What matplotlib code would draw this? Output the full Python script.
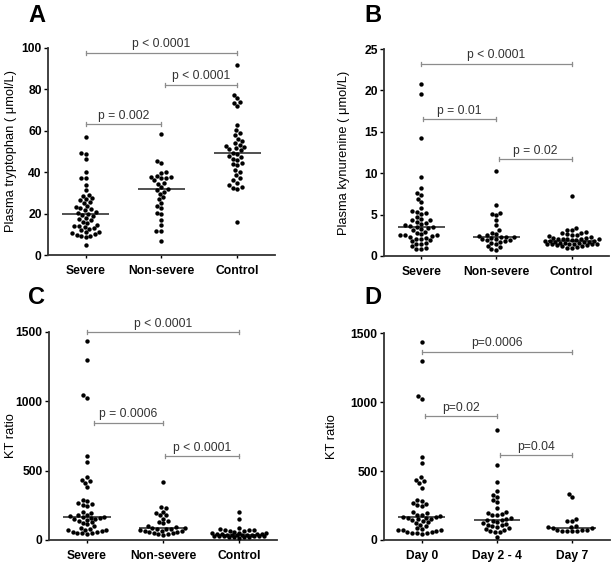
import numpy as np
import matplotlib.pyplot as plt

plt.rcParams['font.family'] = ['Liberation Sans', 'DejaVu Sans']

# 分组名称
groups_sev = ['Severe', 'Non-severe', 'Control']
groups_day = ['Day 0', 'Day 2 - 4', 'Day 7']

# A: 血浆色氨酸 (umol/L)
trp_severe = [57, 49.5, 49, 46.5, 40, 37, 37, 34, 31.5, 29, 28.5, 27.5, 27, 26.5, 25.5,
              25, 23.5, 23, 22.5, 22, 21.5, 21, 20.5, 20, 19.5, 19, 18, 17.5, 17, 16,
              15.5, 14.5, 14, 14, 13.5, 13, 12.5, 12, 11, 11, 10.5, 10, 9.5, 9, 9, 8.5, 5]
trp_nonsevere = [58.5, 45.5, 44.5, 40, 39.5, 38, 37.5, 37.5, 37, 37, 36, 35, 34.5, 33,
                 31.8, 31.5, 30.5, 29.5, 28, 27, 25, 23.5, 22.5, 20.5, 20, 17, 14.5,
                 11.5, 11.5, 7]
trp_control = [92, 77.5, 76, 74, 73.5, 72, 63, 60.5, 59, 58, 56, 55, 54, 53, 52.5, 52,
               51.5, 51, 50.5, 49.5, 49, 48, 47.5, 46.5, 46, 44.5, 44, 43.5, 41, 40,
               38.5, 37, 36, 35, 34, 33, 32.5, 32, 16]

# B: 血浆犬尿氨酸 (umol/L)
kyn_severe = [20.8, 19.6, 14.2, 9.6, 8.2, 7.6, 7.4, 6.9, 6.5, 5.8, 5.4, 5.3, 5.2, 5.1,
              4.7, 4.5, 4.4, 4.3, 4.1, 4.0, 3.9, 3.7, 3.6, 3.5, 3.5, 3.4, 3.3, 3.1, 2.9,
              2.8, 2.6, 2.5, 2.5, 2.5, 2.4, 2.3, 2.2, 2.1, 2.0, 1.9, 1.8, 1.6, 1.5, 1.4,
              1.2, 1.0, 0.9, 0.8]
kyn_nonsevere = [10.3, 6.1, 5.2, 5.1, 4.9, 4.3, 3.7, 3.1, 2.8, 2.6, 2.5, 2.4, 2.35, 2.3,
                 2.25, 2.2, 2.0, 2.0, 1.9, 1.9, 1.8, 1.7, 1.6, 1.4, 1.2, 1.1, 0.8, 0.7]
kyn_control = [7.2, 3.4, 3.2, 3.1, 2.9, 2.8, 2.8, 2.6, 2.5, 2.5, 2.4, 2.3, 2.2, 2.2, 2.1,
               2.1, 2.0, 2.0, 2.0, 1.9, 1.9, 1.8, 1.8, 1.8, 1.7, 1.7, 1.7, 1.6, 1.6, 1.6,
               1.5, 1.5, 1.5, 1.4, 1.4, 1.4, 1.3, 1.3, 1.2, 1.2, 1.1, 1.0, 1.0]

# C: KT ratio
kt_severe = [1433, 1300, 1045, 1025, 605, 560, 455, 432, 425, 410, 380, 290, 282, 270,
             262, 255, 248, 205, 195, 182, 178, 172, 168, 165, 162, 160, 155, 150, 145,
             140, 128, 120, 112, 100, 85, 80, 75, 72, 70, 65, 60, 55, 52, 50, 48, 45]
kt_nonsevere = [420, 235, 228, 205, 198, 182, 178, 155, 135, 128, 120, 98, 92, 88, 85,
                82, 80, 78, 72, 68, 65, 62, 58, 55, 50, 48, 45, 40, 36]
kt_control = [200, 150, 88, 78, 74, 72, 70, 66, 62, 58, 54, 50, 48, 46, 44, 42, 40, 38,
              37, 36, 35, 34, 33, 32, 30, 29, 28, 27, 26, 25, 24, 22, 20, 18]

# D: KT ratio 随时间
kt_day0 = kt_severe
kt_day24 = [795, 542, 417, 354, 325, 313, 289, 277, 229, 205, 195, 190, 182, 178, 160,
            152, 145, 142, 138, 130, 120, 115, 112, 108, 100, 95, 85, 80, 70, 65, 58,
            55, 25]
kt_day7 = [335, 312, 155, 140, 138, 105, 95, 92, 90, 88, 75, 72, 70, 68, 66, 65, 62]


def swarm_offsets(values, xs, ys, d=4.6, maxw=27.0):
    # 蜂群图布局: 像素空间里尽量不重叠, 宽度有上限
    values = np.asarray(values, dtype=float)
    out = np.zeros(len(values))
    cand = np.arange(-maxw, maxw + 0.01, 0.5)
    cand = cand[np.argsort(np.abs(cand) + (cand > 0) * 0.01)]
    px, py = [], []
    for i in np.argsort(values):
        ypx = values[i] * ys
        if px:
            ax_ = np.array(px)
            ay_ = np.array(py)
            dist = np.sqrt((cand[:, None] - ax_[None, :]) ** 2 + (ypx - ay_[None, :]) ** 2).min(axis=1)
            free = np.where(dist >= d)[0]
            off = cand[free[0]] if len(free) else cand[np.argmax(dist)]
        else:
            off = 0.0
        px.append(off)
        py.append(ypx)
        out[i] = off / xs
    return out


def draw_panel(ax, data, labels, ymax, yticks, ylabel, label_x, brackets):
    ax.set_xlim(-0.5, 2.5)
    ax.set_ylim(0, ymax)
    bb = ax.get_window_extent()
    xs = bb.width / 3.0
    ys = bb.height / ymax
    for c, vals in enumerate(data):
        x = c + swarm_offsets(vals, xs, ys)
        ax.scatter(x, vals, s=10, c='black', linewidths=0, zorder=3, clip_on=False)
        ax.hlines(np.median(vals), c - 0.31, c + 0.31, color='#222222', lw=1.1, zorder=2)
    for x0, x1, y, txt in brackets:
        t = 2.0 / ys
        ax.plot([x0, x1], [y, y], color='#8c8c8c', lw=0.9, clip_on=False)
        ax.plot([x0, x0], [y - t, y + t], color='#8c8c8c', lw=0.9, clip_on=False)
        ax.plot([x1, x1], [y - t, y + t], color='#8c8c8c', lw=0.9, clip_on=False)
        ax.text((x0 + x1) / 2, y + 2.5 / ys, txt, ha='center', va='bottom',
                fontsize=8.7, color='#333333')
    for s in ['top', 'right']:
        ax.spines[s].set_visible(False)
    for s in ['left', 'bottom']:
        ax.spines[s].set_color('#333333')
        ax.spines[s].set_linewidth(1.3)
    ax.set_yticks(yticks)
    ax.set_xticks(range(3))
    ax.set_xticklabels(labels, fontweight='bold', fontsize=8.7)
    for lb in ax.get_yticklabels():
        lb.set_fontweight('bold')
    ax.tick_params(axis='y', direction='out', length=3, width=1, labelsize=8.7, pad=1.5)
    ax.tick_params(axis='x', direction='out', length=2, width=1, labelsize=8.7, pad=5)
    ax.set_ylabel(ylabel, fontsize=9.3)
    ax.yaxis.set_label_coords(label_x, 0.5)


fig = plt.figure(figsize=(6.14, 5.64), dpi=100)
W, H = 614.0, 564.0
axA = fig.add_axes([48 / W, 1 - 255 / H, 227 / W, 207 / H])
axB = fig.add_axes([384 / W, 1 - 256 / H, 225 / W, 207 / H])
axC = fig.add_axes([49 / W, 1 - 540 / H, 228 / W, 208 / H])
axD = fig.add_axes([384 / W, 1 - 540 / H, 226 / W, 207 / H])

draw_panel(axA, [trp_severe, trp_nonsevere, trp_control], groups_sev, 100,
           [0, 20, 40, 60, 80, 100], 'Plasma tryptophan ( μmol/L)', -0.135,
           [(0, 2, 97.6, 'p < 0.0001'), (1.04, 2, 82.3, 'p < 0.0001'),
            (0, 1, 63.2, 'p = 0.002')])
draw_panel(axB, [kyn_severe, kyn_nonsevere, kyn_control], groups_sev, 25,
           [0, 5, 10, 15, 20, 25], 'Plasma kynurenine ( μmol/L)', -0.15,
           [(0, 2, 23.2, 'p < 0.0001'), (0.02, 1, 16.5, 'p = 0.01'),
            (1.04, 2, 11.7, 'p = 0.02')])
draw_panel(axC, [kt_severe, kt_nonsevere, kt_control], groups_sev, 1500,
           [0, 500, 1000, 1500], 'KT ratio', -0.14,
           [(0, 2, 1500, 'p < 0.0001'), (0.09, 1, 845, 'p = 0.0006'),
            (1.02, 2, 605, 'p < 0.0001')])
draw_panel(axD, [kt_day0, kt_day24, kt_day7], groups_day, 1500,
           [0, 500, 1000, 1500], 'KT ratio', -0.205,
           [(0, 2, 1365, 'p=0.0006'), (0.045, 1, 898, 'p=0.02'),
            (1.04, 2, 614, 'p=0.04')])

for letter, x, y in [('A', 28, 22), ('B', 364, 22), ('C', 28, 304), ('D', 364, 304)]:
    fig.text(x / W, 1 - y / H, letter, fontsize=17, fontweight='bold', va='baseline')

fig.savefig('out.png', dpi=100)
